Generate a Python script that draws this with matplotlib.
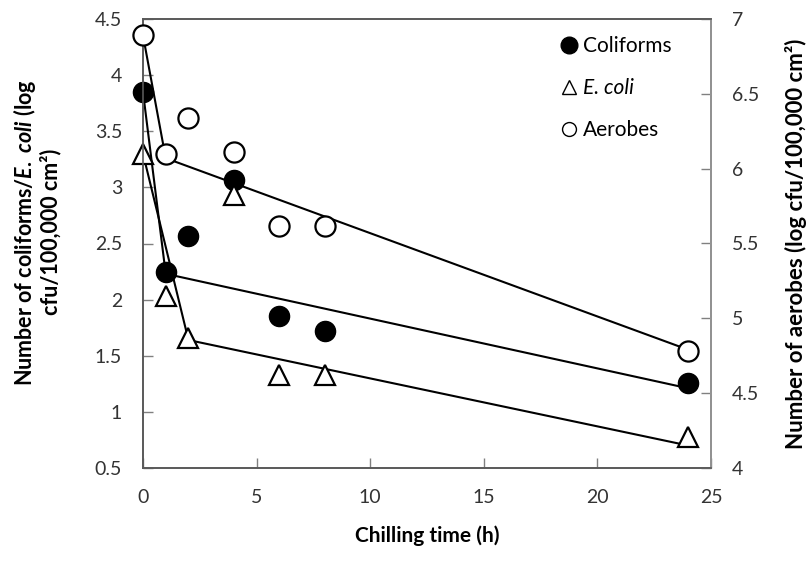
import matplotlib
matplotlib.use("Agg")
import matplotlib.pyplot as plt
from matplotlib.lines import Line2D
from matplotlib.ticker import FuncFormatter

plt.rcParams['font.family'] = ['Lato', 'DejaVu Sans']
plt.rcParams['mathtext.fontset'] = 'custom'
plt.rcParams['mathtext.rm'] = 'Lato:bold'
plt.rcParams['mathtext.it'] = 'Lato:italic:bold'
plt.rcParams['mathtext.bf'] = 'Lato:bold'

# sampled chilling times (h)
hours = [0, 1, 2, 4, 6, 8, 24]
coliforms = [3.85, 2.25, 2.57, 3.07, 1.85, 1.72, 1.26]
ecoli = [3.30, 2.03, 1.66, 2.93, 1.33, 1.33, 0.78]
aerobes = [6.89, 6.10, 6.34, 6.11, 5.62, 5.62, 4.78]

# two-phase model lines
coli_fit_t = [0, 1, 24]
coli_fit = [3.85, 2.23, 1.21]
ecoli_fit_t = [0, 2, 24]
ecoli_fit = [3.30, 1.64, 0.70]
aer_fit_t = [0, 1, 24]
aer_fit = [6.89, 6.07, 4.79]

fig = plt.figure(figsize=(8.09, 5.61), dpi=100)
ax = fig.add_axes([143/809, 1-468/561, (711-143)/809, (468-19)/561])
ax2 = ax.twinx()

ax.plot(coli_fit_t, coli_fit, color='k', lw=1.5, clip_on=False, zorder=2)
ax.plot(ecoli_fit_t, ecoli_fit, color='k', lw=1.5, clip_on=False, zorder=2)
ax.plot(hours, coliforms, ls='none', marker='o', ms=14.5, mfc='k', mec='k',
        clip_on=False, zorder=3)
ax.plot(hours, ecoli, ls='none', marker='^', ms=14.5, mfc='white', mec='k',
        mew=1.6, clip_on=False, zorder=3)
ax2.plot(aer_fit_t, aer_fit, color='k', lw=1.5, clip_on=False, zorder=2)
ax2.plot(hours, aerobes, ls='none', marker='o', ms=14.5, mfc='white', mec='k',
        mew=1.6, clip_on=False, zorder=3)

ax.set_xlim(0, 25)
ax.set_ylim(0.5, 4.5)
ax2.set_ylim(4, 7)
ax.set_xticks(range(0, 26, 5))
ax.set_yticks([0.5, 1, 1.5, 2, 2.5, 3, 3.5, 4, 4.5])
ax2.set_yticks([4, 4.5, 5, 5.5, 6, 6.5, 7])
fmt = FuncFormatter(lambda v, p: '{:g}'.format(v))
ax.xaxis.set_major_formatter(fmt)
ax.yaxis.set_major_formatter(fmt)
ax2.yaxis.set_major_formatter(fmt)

for a in (ax, ax2):
    a.tick_params(direction='in', length=7, width=1, colors='#808080',
                  labelcolor='#333333', labelsize=14, pad=15)
    for s in a.spines.values():
        s.set_color('#595959')
        s.set_linewidth(1.2)
ax2.spines['right'].set_color('#999999')

ax.set_xlabel('Chilling time (h)', fontsize=15, fontweight='bold', labelpad=14)
ax.set_ylabel('Number of coliforms/$\\mathit{E.\\ coli}$ (log\ncfu/100,000 cm\u00b2)',
              fontsize=15.5, fontweight='bold', linespacing=1.1)
ax.yaxis.set_label_coords(-0.143, 0.525)
ax2.set_ylabel('Number of aerobes (log cfu/100,000 cm\u00b2)', fontsize=16,
               fontweight='bold')
ax2.yaxis.set_label_coords(1.13, 0.5)

handles = [
    Line2D([], [], ls='none', marker='o', ms=12, mfc='k', mec='k'),
    Line2D([], [], ls='none', marker='^', ms=10, mfc='white', mec='k', mew=1),
    Line2D([], [], ls='none', marker='o', ms=10, mfc='white', mec='k', mew=1),
]
leg = ax2.legend(handles, ['Coliforms', 'E. coli', 'Aerobes'], loc='upper left',
                 bbox_to_anchor=(0.735, 0.962), frameon=False, fontsize=15,
                 handlelength=0.8, handletextpad=0.3, labelspacing=1.05,
                 borderpad=0, borderaxespad=0)
leg.get_texts()[1].set_style('italic')

fig.savefig('out.png', dpi=100)
